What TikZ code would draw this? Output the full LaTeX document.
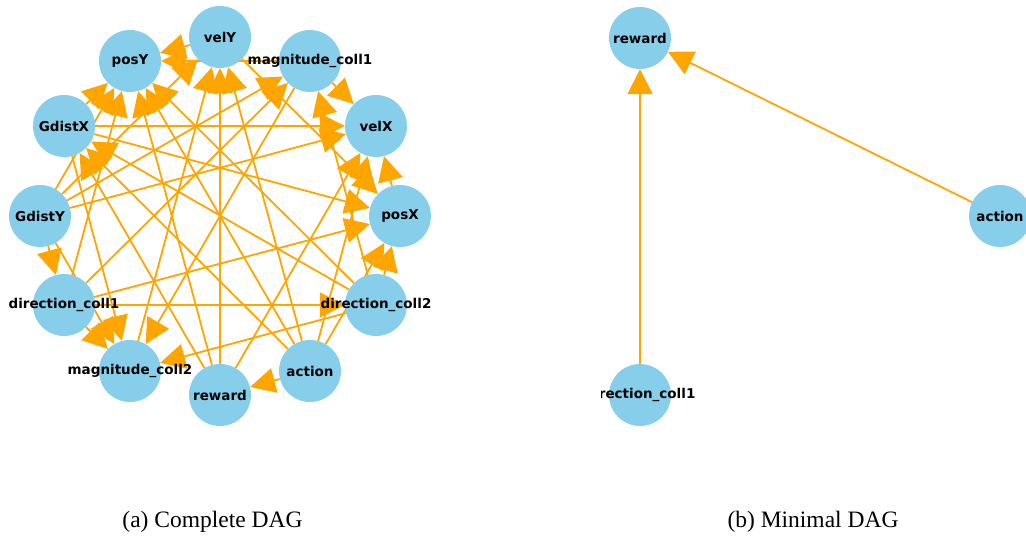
\documentclass[tikz,border=0pt]{standalone}
\usepackage{fontspec}
\setsansfont{DejaVu Sans}
\newfontfamily\captionfont{Liberation Serif}
\usetikzlibrary{arrows.meta}
\definecolor{nodeblue}{HTML}{87CEEB}
\definecolor{edgeorange}{HTML}{FFA500}
\pgfdeclarelayer{background}
\pgfsetlayers{background,main}
\tikzstyle{dag arrow} = [draw=edgeorange, line width=1.8pt, -{Triangle[length=25pt,width=25pt]}]
\tikzstyle{dag caption} = [rectangle, fill=none, minimum size=0pt, inner sep=0pt, font=\captionfont\fontsize{23.5}{28}\selectfont]
\newcommand{\vlabel}[1]{\makebox[0pt]{#1}}

\begin{document}
\begin{tikzpicture}[x=1pt, y=-1pt, every node/.style={circle, fill=nodeblue, minimum size=62pt, inner sep=0pt, font=\sffamily\bfseries\fontsize{13.5}{16}\selectfont}]
    \useasboundingbox (0,0) rectangle (1026,540);

    % Nodes (complete DAG)
    \node (posX) at (400,216) {\vlabel{posX}};
    \node (velX) at (376,126) {\vlabel{velX}};
    \node (velY) at (220,37) {\vlabel{velY}};
    \node (magColl1) at (310,61) {\vlabel{magnitude\_coll1}};
    \node (posY) at (130,61) {\vlabel{posY}};
    \node (gdistX) at (64,126) {\vlabel{GdistX}};
    \node (gdistY) at (40,216) {\vlabel{GdistY}};
    \node (dirColl1) at (64,305) {\vlabel{direction\_coll1}};
    \node (reward) at (220,395) {\vlabel{reward}};
    \node (magColl2) at (130,371) {\vlabel{magnitude\_coll2}};
    \node (action) at (310,371) {\vlabel{action}};
    \node (dirColl2) at (376,305) {\vlabel{direction\_coll2}};

    % Edges (complete DAG)
    \begin{pgfonlayer}{background}
    \draw[dag arrow] (reward) -- (velY);
    \draw[dag arrow] (reward) -- (velX);
    \draw[dag arrow] (reward) -- (gdistX);
    \draw[dag arrow] (reward) -- (posY);
    \draw[dag arrow] (action) -- (reward);
    \draw[dag arrow] (action) -- (velY);
    \draw[dag arrow] (action) -- (velX);
    \draw[dag arrow] (action) -- (posX);
    \draw[dag arrow] (action) -- (posY);
    \draw[dag arrow] (action) -- (gdistX);
    \draw[dag arrow] (gdistY) -- (dirColl1);
    \draw[dag arrow] (gdistY) -- (velX);
    \draw[dag arrow] (gdistY) -- (velY);
    \draw[dag arrow] (gdistY) -- (posY);
    \draw[dag arrow] (gdistY) -- (magColl1);
    \draw[dag arrow] (gdistY) -- (magColl2);
    \draw[dag arrow] (gdistX) -- (velX);
    \draw[dag arrow] (gdistX) -- (posX);
    \draw[dag arrow] (gdistX) -- (posY);
    \draw[dag arrow] (gdistX) -- (magColl2);
    \draw[dag arrow] (dirColl1) -- (dirColl2);
    \draw[dag arrow] (dirColl1) -- (posX);
    \draw[dag arrow] (dirColl1) -- (posY);
    \draw[dag arrow] (dirColl1) -- (magColl1);
    \draw[dag arrow] (dirColl1) -- (magColl2);
    \draw[dag arrow] (dirColl2) -- (magColl2);
    \draw[dag arrow] (dirColl2) -- (magColl1);
    \draw[dag arrow] (dirColl2) -- (posX);
    \draw[dag arrow] (dirColl2) -- (posY);
    \draw[dag arrow] (dirColl2) -- (gdistX);
    \draw[dag arrow] (posX) -- (velX);
    \draw[dag arrow] (magColl1) -- (velX);
    \draw[dag arrow] (magColl1) -- (posY);
    \draw[dag arrow] (magColl1) -- (magColl2);
    \draw[dag arrow] (magColl2) -- (velY);
    \draw[dag arrow] (velY) -- (posY);
    \draw[dag arrow] (velY) -- (posX);
    \end{pgfonlayer}

    % Nodes and edges (minimal DAG)
    \begin{scope}
    \clip (601,0) rectangle (1026,540);
    \node (rewardMin) at (640,38) {\vlabel{reward}};
    \node (actionMin) at (1000,216) {\vlabel{action}};
    \node (dirColl1Min) at (640,395) {\vlabel{direction\_coll1}};
    \end{scope}
    \begin{pgfonlayer}{background}
    \draw[dag arrow] (dirColl1Min) -- (rewardMin);
    \draw[dag arrow] (actionMin) -- (rewardMin);
    \end{pgfonlayer}

    % Captions
    \node[dag caption] (capComplete) at (212.5,522) {(a) Complete DAG};
    \node[dag caption] (capMinimal) at (813,522) {(b) Minimal DAG};
  \end{tikzpicture}
\end{document}
